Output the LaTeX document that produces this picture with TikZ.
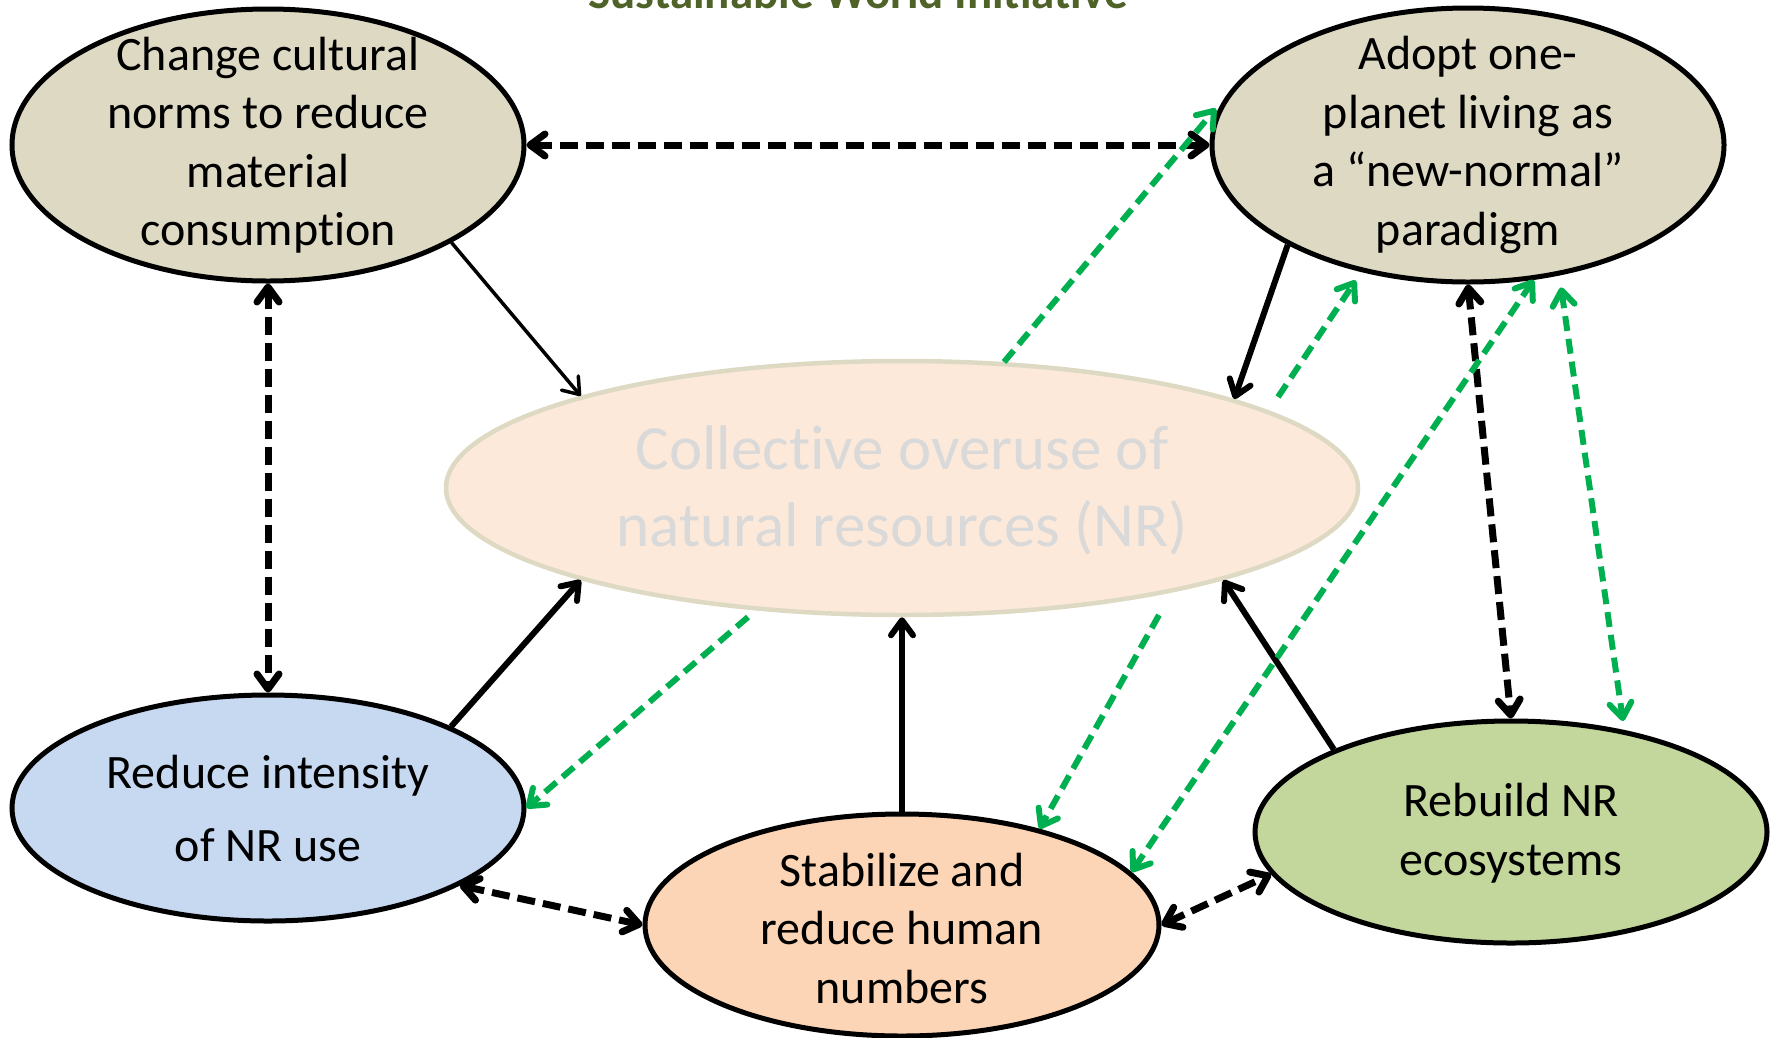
\documentclass[tikz,border=0pt]{standalone}
\usepackage{fontspec}
\setmainfont{Carlito}[Ligatures={NoCommon}]
\usetikzlibrary{shapes.geometric,arrows.meta}
\definecolor{khaki}{HTML}{DDD9C3}
\definecolor{peach}{HTML}{FCE9DA}
\definecolor{lblue}{HTML}{C6D9F1}
\definecolor{lorange}{HTML}{FBD5B5}
\definecolor{lgreen}{HTML}{C3D69B}
\definecolor{arrgreen}{HTML}{00B050}
\definecolor{titlegreen}{HTML}{4F6228}
\definecolor{ghost}{HTML}{D9D9D9}
\begin{document}
\begin{tikzpicture}[x=1pt,y=-1pt,
  >={Straight Barb[length=15pt,width=22pt,round]},
  ell/.style={ellipse,draw=black,line width=5pt,inner sep=0pt,minimum width=512pt,minimum height=#1},
  lbl/.style={align=center,text=black,inner sep=0pt,font=\fontsize{48}{58.5}\selectfont},
  solidc/.style={draw=black,line width=6pt},
  thinc/.style={draw=black,line width=3.5pt},
  dashk/.style={draw=black,line width=7pt,dash pattern=on 18pt off 8pt},
  dashg/.style={draw=arrgreen,line width=6pt,dash pattern=on 15pt off 8pt}
]
\useasboundingbox[fill=white] (0,0) rectangle (1779,1037);

% title (cut off at top)
\node[anchor=base,inner sep=0pt,text=titlegreen,font=\fontsize{47}{56}\selectfont\bfseries] (title) at (858,8) {Sustainable World Initiative};

% ellipses
\node[ell=272pt,fill=khaki] (tl) at (268,145) {};
\node[ell=274pt,fill=khaki] (tr) at (1468,145) {};
\node[ellipse,draw=khaki,line width=4.5pt,fill=peach,inner sep=0pt,minimum width=912pt,minimum height=254pt] (c) at (902,488) {};
\node[ell=226pt,fill=lblue] (rl) at (268,808) {};
\node[ell=222pt,fill=lorange,minimum width=514pt] (st) at (902,925) {};
\node[ell=222pt,fill=lgreen] (rb) at (1511,832) {};

% labels
\node[lbl] (ttl) at (tl.center) {Change cultural\\norms to reduce\\material\\consumption};
\node[lbl] (ttr) at (tr.center) {Adopt one-\\planet living as\\a “new-normal”\\paradigm};
\node[lbl,text=ghost,font=\fontsize{63}{77}\selectfont] (tc) at (902,490) {Collective overuse of\\natural resources (NR)};
\node[lbl,font=\fontsize{48}{73}\selectfont] (trl) at (268,808) {Reduce intensity\\of NR use};
\node[lbl] (tst) at (902,928) {Stabilize and\\reduce human\\numbers};
\node[lbl] (trb) at (1511,833) {Rebuild NR\\ecosystems};

% free starts of green connectors
\coordinate (g6) at (1278,397);
\coordinate (g10) at (1159,615);
\coordinate (g11) at (748,617);

% black connectors
\draw[dashk,<->] (tl.east) -- (tr.west);
\draw[dashk,<->] (tl.south) -- (rl.north);
\draw[thinc,->] (tl.-28) -- (c.164);
\draw[solidc,->] (tr.-151.5) -- (c.15.7);
\draw[dashk,<->] (tr.south) -- (rb.north);
\draw[solidc,->] (rl.24) -- (c.-164.1);
\draw[solidc,->] (st.north) -- (c.south);
\draw[solidc,->] (rb.155.5) -- (c.-16.1);
\draw[dashk,<->] (rl.-22.9) -- (st.west);
\draw[dashk,<->] (st.east) -- (rb.190);

% green connectors
\draw[dashg,->,shorten >=14pt] (c.51.5) -- (tr.169.5);
\draw[dashg,->,shorten >=10pt] (g6) -- (tr.-130);
\draw[dashg,<->,shorten <=12pt,shorten >=9pt] (tr.-55.6) -- (rb.42.2);
\draw[dashg,<->] (st.13.9) -- (tr.-64.1);
\draw[dashg,->] (g10) -- (st.35.7);
\draw[dashg,->] (g11) -- (rl.0);
\end{tikzpicture}
\end{document}
